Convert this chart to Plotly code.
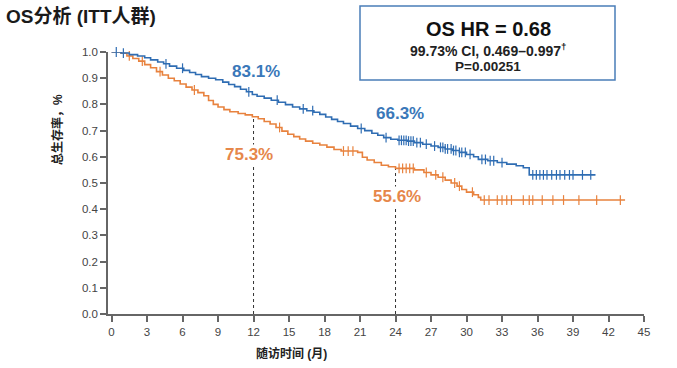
import plotly.graph_objects as go

# Kaplan-Meier step data (months, survival)
blue_t = [0, 0.8, 1.5, 2.2, 2.8, 3.3, 3.9, 4.4, 4.9, 5.5, 6.1, 6.6, 7.1, 7.6, 8.2, 8.8, 9.4, 9.9,
          10.4, 10.9, 11.4, 11.9, 12.3, 12.9, 13.5, 14.1, 14.7, 15.3, 15.9, 16.5, 17.1, 17.6, 18.1,
          18.6, 19.1, 19.6, 20.2, 20.8, 21.4, 22.0, 22.5, 23.0, 23.6, 24.2, 25.0, 25.6, 26.3, 27.0,
          27.6, 28.2, 28.8, 29.4, 30.0, 30.6, 31.0, 31.8, 32.6, 33.4, 34.2, 34.8, 35.3, 40.9]
blue_s = [1.0, 0.996, 0.99, 0.985, 0.978, 0.97, 0.962, 0.955, 0.946, 0.938, 0.93, 0.922, 0.914,
          0.906, 0.9, 0.894, 0.885, 0.876, 0.868, 0.858, 0.848, 0.838, 0.831, 0.824, 0.816, 0.808,
          0.799, 0.79, 0.783, 0.776, 0.77, 0.762, 0.752, 0.743, 0.735, 0.727, 0.717, 0.708, 0.7,
          0.69, 0.682, 0.673, 0.667, 0.663, 0.66, 0.654, 0.648, 0.641, 0.636, 0.63, 0.624, 0.617,
          0.609, 0.6, 0.59, 0.585, 0.578, 0.572, 0.566, 0.558, 0.531, 0.531]

orange_t = [0, 0.8, 1.3, 1.8, 2.3, 2.8, 3.3, 3.8, 4.3, 4.8, 5.3, 5.8, 6.3, 6.8, 7.3, 7.8, 8.2, 8.6,
            9.0, 9.5, 10.0, 10.7, 11.3, 11.9, 12.4, 12.9, 13.4, 13.9, 14.4, 14.9, 15.4, 15.9, 16.4,
            17.0, 17.6, 18.2, 18.8, 19.4, 20.8, 21.2, 21.6, 22.2, 22.8, 23.4, 24.0, 25.6, 26.4,
            27.0, 27.6, 28.2, 28.7, 29.2, 29.6, 30.0, 30.6, 31.0, 31.2, 43.4]
orange_s = [1.0, 0.995, 0.985, 0.975, 0.965, 0.952, 0.94, 0.925, 0.912, 0.9, 0.89, 0.878, 0.866,
            0.855, 0.845, 0.833, 0.815, 0.8, 0.79, 0.78, 0.772, 0.765, 0.76, 0.753, 0.745, 0.735,
            0.725, 0.712, 0.698, 0.686, 0.677, 0.668, 0.66, 0.652, 0.645, 0.637, 0.628, 0.622,
            0.617, 0.598, 0.588, 0.578, 0.568, 0.562, 0.556, 0.55, 0.54, 0.531, 0.522, 0.511, 0.5,
            0.488, 0.475, 0.465, 0.455, 0.445, 0.435, 0.435]

# censor times (months)
blue_cens = [0.4, 1.0, 4.6, 6.0, 11.6, 14.0, 16.2, 17.0, 21.1, 23.2, 24.3, 24.5, 24.7, 24.9,
             25.1, 25.3, 25.5, 25.8, 26.1, 26.6, 27.3, 27.8, 28.0, 28.2, 28.4, 28.7, 28.9, 29.1,
             29.4, 29.6, 29.9, 30.3, 31.3, 31.6, 32.0, 32.3, 33.0, 35.6, 35.9, 36.2, 36.5, 36.8,
             37.2, 37.6, 37.9, 38.3, 38.7, 39.0, 39.8, 40.5]
orange_cens = [1.5, 2.6, 4.1, 7.0, 14.2, 19.6, 20.0, 20.4, 24.3, 24.6, 24.9, 25.2, 25.5, 26.6,
               27.4, 28.0, 29.0, 29.4, 30.5, 31.5, 31.9, 32.6, 33.0, 33.4, 33.8, 34.8, 35.3,
               35.6, 36.4, 37.3, 38.2, 39.5, 41.0, 43.0]

x_ticks = list(range(0, 46, 3))
y_ticks = [i / 10 for i in range(0, 11)]

landmark_t = [12, 24]
landmark_blue = ["83.1%", "66.3%"]
landmark_orange = ["75.3%", "55.6%"]
landmark_orange_s = [0.753, 0.556]

BLUE = "#2F6DB3"
ORANGE = "#E8823E"
FONT = "Arial, Liberation Sans, Noto Sans CJK SC, sans-serif"


def surv_at(ts, ss, t):
    v = ss[0]
    for ti, si in zip(ts, ss):
        if ti <= t:
            v = si
    return v


fig = go.Figure()

for i, t in enumerate(landmark_t):
    fig.add_trace(go.Scatter(x=[t, t], y=[0, landmark_orange_s[i]], mode="lines",
                             line=dict(color="#333333", width=1, dash="dot"),
                             hoverinfo="skip", showlegend=False))

for ts, ss, cens, col in [(orange_t, orange_s, orange_cens, ORANGE), (blue_t, blue_s, blue_cens, BLUE)]:
    fig.add_trace(go.Scatter(x=ts, y=ss, mode="lines", line=dict(color=col, width=1.6, shape="hv"),
                             showlegend=False))
    fig.add_trace(go.Scatter(x=cens, y=[surv_at(ts, ss, c) for c in cens], mode="markers",
                             marker=dict(symbol="line-ns", size=7, line=dict(color=col, width=1.2)),
                             showlegend=False, cliponaxis=False))

# landmark labels
blue_pos = [(12.2, 0.927), (24.35, 0.767)]
orange_pos = [(11.6, 0.607), (24.1, 0.45)]
for (x, y), txt in zip(blue_pos, landmark_blue):
    fig.add_annotation(x=x, y=y, text=f"<b>{txt}</b>", showarrow=False, xanchor="center", yanchor="middle",
                       font=dict(family=FONT, size=17, color="#3A78B9"))
for (x, y), txt in zip(orange_pos, landmark_orange):
    fig.add_annotation(x=x, y=y, text=f"<b>{txt}</b>", showarrow=False, bgcolor="white", borderpad=0,
                       xanchor="center", yanchor="middle",
                       font=dict(family=FONT, size=17, color="#E6874A"))


def px(xp):
    return (xp - 108) / 536


def py(yp):
    return (314 - yp) / 262


# HR box
fig.add_shape(type="rect", xref="paper", yref="paper", x0=px(360), x1=px(615), y0=py(80), y1=py(6),
              line=dict(color="#4A7DB8", width=1.5), fillcolor="white")
box_lines = [("<b>OS HR = 0.68</b>", 29, 20, "#111111"),
             ("<b>99.73% CI, 0.469–0.997<sup>†</sup></b>", 50, 14, "#222222"),
             ("<b>P=0.00251</b>", 66, 13.5, "#222222")]
for txt, yp, sz, col in box_lines:
    fig.add_annotation(xref="paper", yref="paper", x=px(488), y=py(yp), text=txt,
                       xanchor="center", yanchor="middle", showarrow=False,
                       font=dict(family=FONT, size=sz, color=col))

# title
fig.add_annotation(xref="paper", yref="paper", x=px(4), y=py(17), xanchor="left", yanchor="middle",
                   text="<b>OS分析 (ITT人群)</b>", showarrow=False,
                   font=dict(family=FONT, size=19, color="#1a1a1a"))
# axis titles
fig.add_annotation(xref="paper", yref="paper", x=px(57), y=py(130), xanchor="center", yanchor="middle",
                   text="<b>总生存率，%</b>", textangle=-90, showarrow=False,
                   font=dict(family=FONT, size=12, color="#222222"))
fig.add_annotation(xref="paper", yref="paper", x=px(291), y=py(353), xanchor="center", yanchor="middle",
                   text="<b>随访时间 (月)</b>", showarrow=False,
                   font=dict(family=FONT, size=12, color="#222222"))

fig.update_layout(
    width=677, height=368,
    margin=dict(l=108, r=33, t=52, b=54),
    paper_bgcolor="white", plot_bgcolor="white",
    font=dict(family=FONT, size=11, color="#444444"),
    xaxis=dict(range=[-0.3, 45], tickvals=x_ticks, ticktext=[str(v) for v in x_ticks],
               showgrid=False, zeroline=False, showline=True, linecolor="#666666", linewidth=1.5,
               ticks="outside", ticklen=6, tickcolor="#666666", tickwidth=1.5,
               tickfont=dict(size=11.5, color="#444444")),
    yaxis=dict(range=[0, 1.0], tickvals=y_ticks, ticktext=[f"{v:.1f}" for v in y_ticks],
               showgrid=False, zeroline=False, showline=True, linecolor="#666666", linewidth=1.5,
               ticks="outside", ticklen=6, tickcolor="#666666", tickwidth=1.5,
               tickfont=dict(size=11.5, color="#444444")),
)

fig.write_html("out.html", config={"displayModeBar": False},
               post_script="document.body.style.margin='0px';")
